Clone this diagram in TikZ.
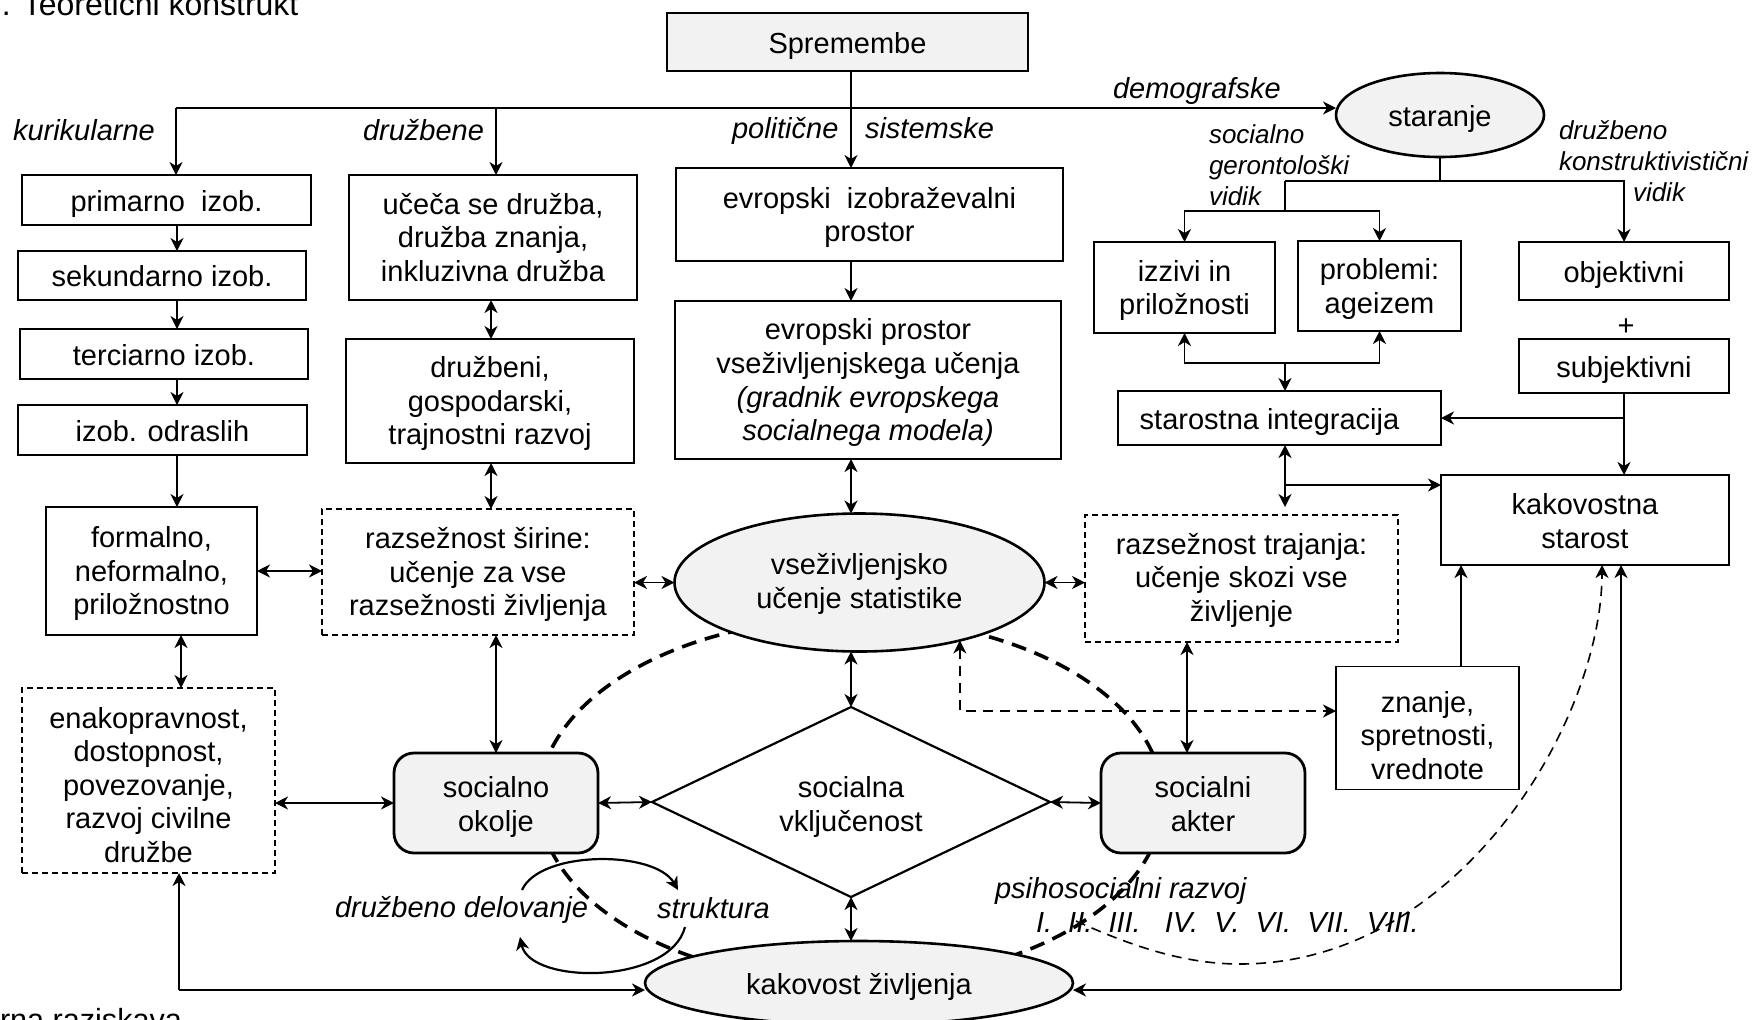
\documentclass[tikz,border=0pt]{standalone}
\usepackage{fontspec}
\setmainfont{Liberation Sans}
\usetikzlibrary{arrows.meta,shapes.geometric}
\definecolor{nodefill}{RGB}{242,242,242}
% invisible rule that sets the height of the first line of a multi-line label
\newcommand{\lnup}[1][15.4pt]{\rule{0pt}{#1}}

\begin{document}
\begin{tikzpicture}[x=0.5pt,y=-0.5pt,
  font=\fontsize{14.5pt}{16.8pt}\selectfont,
  every node/.style={inner sep=0pt, outer sep=0pt},
  >={Stealth[length=6.5pt,width=6.5pt,inset=2pt]},
  txt/.style={execute at begin node=\rule{0pt}{16.3pt}, execute at end node=\strut},
  box/.style={draw, line width=0.7pt, align=center, txt},
  dbox/.style={box, line width=0.6pt, dash pattern=on 3pt off 2pt},
  gbox/.style={draw, line width=1.4pt, fill=nodefill, rounded corners=10pt, align=center, txt},
  gell/.style={ellipse, draw, line width=1.3pt, fill=nodefill, align=center, txt},
  every path/.style={line width=0.9pt},
  lab/.style={font=\fontsize{14.5pt}{16.8pt}\selectfont\itshape, anchor=base west},
  slab/.style={font=\fontsize{13pt}{15.5pt}\selectfont\itshape, anchor=base west},
  bigdash/.style={line width=1.8pt, dash pattern=on 7.5pt off 4.5pt},
  thindash/.style={line width=0.8pt, dash pattern=on 5pt off 3.5pt},
  cyc/.style={line width=1.1pt}]

\fill[white] (0,0) rectangle (1758,1019);
\useasboundingbox (0,0) rectangle (1758,1019);

% large dashed ring behind the central nodes
\draw[bigdash] (851,800) ellipse [x radius=156pt, y radius=91pt];

% header and headings
\node[anchor=base west, font=\fontsize{16pt}{19pt}\selectfont] (ttl) at (2,15) {. Teoretični konstrukt};
\node[anchor=base west, font=\fontsize{15.3pt}{18pt}\selectfont] (sub) at (0,1030) {rna raziskava};
\node[box, fill=nodefill, line width=0.8pt, minimum width=180.5pt, minimum height=29pt] (spr) at (847.5,42) {Spremembe};

% left column: curricular changes
\node[box, minimum width=144.5pt, minimum height=25pt] (prim) at (166.5,200) {primarno~~izob.};
\node[box, minimum width=144pt, minimum height=24.5pt] (sek) at (162,275.5) {sekundarno izob.};
\node[box, minimum width=144pt, minimum height=25pt] (ter) at (164,354) {terciarno izob.};
\node[box, minimum width=144.5pt, minimum height=25pt] (odr) at (162.5,430) {izob. odraslih};
\node[box, minimum width=105.5pt, minimum height=64pt] (form) at (151.5,571) {\lnup formalno,\\neformalno,\\priložnostno};
\node[dbox, minimum width=126.5pt, minimum height=92.5pt] (enak) at (148.5,780.5) {\lnup[19.9pt]enakopravnost,\\dostopnost,\\povezovanje,\\razvoj civilne\\družbe};

% second column: social changes
\node[box, minimum width=144pt, minimum height=62.5pt] (uce) at (493,237.5) {\lnup učeča se družba,\\družba znanja,\\inkluzivna družba};
\node[box, minimum width=144pt, minimum height=62pt] (druz) at (490,401) {\lnup družbeni,\\gospodarski,\\trajnostni razvoj};
\node[dbox, minimum width=156pt, minimum height=63pt] (sir) at (478,572) {\lnup razsežnost širine:\\učenje za vse\\razsežnosti življenja};

% centre column
\node[box, minimum width=193.5pt, minimum height=46.5pt] (eip) at (869.5,214.5) {\lnup evropski~~izobraževalni\\prostor};
\node[box, minimum width=193pt, minimum height=79pt] (epvu) at (868,380) {\lnup evropski prostor\\vseživljenjskega učenja\\\textit{(gradnik evropskega}\\\textit{socialnega modela)}};
\node[gell, minimum width=185pt, minimum height=69pt] (vse) at (859.5,582.5) {\lnup[14.3pt]vseživljenjsko\\učenje statistike};
\node[diamond, draw, line width=1.1pt, fill=white, aspect=2.09, minimum width=199pt, minimum height=95pt, align=center, txt] (dia) at (851,802) {\lnup[17.6pt]socialna\\vključenost};
\node[gbox, minimum width=102pt, minimum height=50pt] (okolje) at (496,803) {\lnup[16.5pt]socialno\\okolje};
\node[gbox, minimum width=102pt, minimum height=50pt] (akter) at (1203,803) {\lnup[16.5pt]socialni\\akter};
\node[gell, minimum width=214pt, minimum height=42pt] (kz) at (859,983) {kakovost življenja};

% right part: ageing
\node[gell, minimum width=104pt, minimum height=42pt] (star) at (1440,115) {staranje};
\node[box, minimum width=90.5pt, minimum height=45.5pt] (izz) at (1184.5,287.5) {\lnup izzivi in\\priložnosti};
\node[box, minimum width=81.5pt, minimum height=45pt] (prob) at (1379.5,286) {\lnup problemi:\\ageizem};
\node[box, minimum width=105pt, minimum height=29pt] (obj) at (1624,271) {objektivni};
\node (plus) at (1626,327) {+};
\node[box, minimum width=105pt, minimum height=27pt] (subj) at (1624,366) {subjektivni};
\node[box, minimum width=161.5pt, minimum height=27pt] (stint) at (1279.5,418) {starostna integracija\hspace*{10pt}};
\node[box, minimum width=144pt, minimum height=45pt] (kak) at (1585,520) {\lnup[16.5pt]kakovostna\\starost};
\node[dbox, minimum width=156.5pt, minimum height=63.5pt] (traj) at (1241.5,578.5) {\lnup[14.3pt]razsežnost trajanja:\\učenje skozi vse\\življenje};
\node[box, minimum width=91.5pt, minimum height=57pt] (znanje) at (1427.5,728) {\lnup[22.9pt]znanje,\\spretnosti,\\vrednote};

% branch labels
\node[lab] (lkur) at (13,140) {kurikularne};
\node[lab] (ldru) at (363,140) {družbene};
\node[lab] (lpol) at (732,138) {politične};
\node[lab] (lsis) at (865,138) {sistemske};
\node[lab] (ldem) at (1113,98) {demografske};
\node[slab] (lsg1) at (1209,143) {socialno};
\node[slab] (lsg2) at (1209,174) {gerontološki};
\node[slab] (lsg3) at (1209,205) {vidik};
\node[slab] (ldk1) at (1559,139) {družbeno};
\node[slab] (ldk2) at (1559,170) {konstruktivistični};
\node[slab] (ldk3) at (1633,201) {vidik};
\node[lab] (lpsi) at (995,898) {psihosocialni razvoj};
\node[lab] (lnum) at (1036,932) {I.~~II.~~III.~~~IV.~~V.~~VI.~~VII.~~VIII.};
\node[lab] (ldel) at (335,917) {družbeno delovanje};
\node[lab] (lstr) at (657,918) {struktura};

% main distribution line
\coordinate (top) at (851,108);
\coordinate (hk) at (176,108);
\coordinate (hd) at (496,108);
\draw[->] (spr.south -| top) -- (eip.north -| top);
\draw[->] (hk) -- (prim.north -| hk);
\draw[->] (hd) -- (uce.north -| hd);
\draw[->] (hk) -- (star.west |- hk);

% left column links
\coordinate (lx) at (177,0);
\coordinate (lx2) at (181,0);
\draw[->] (prim.south -| lx) -- (sek.north -| lx);
\draw[->] (sek.south -| lx) -- (ter.north -| lx);
\draw[->] (ter.south -| lx) -- (odr.north -| lx);
\draw[->] (odr.south -| lx) -- (form.north -| lx);
\draw[<->] (form.south -| lx2) -- (enak.north -| lx2);
\draw[<->] (form.east) -- (form.east -| sir.west);

% second column links
\coordinate (dx) at (491,0);
\draw[<->] (uce.south -| dx) -- (druz.north -| dx);
\draw[<->] (druz.south -| dx) -- (sir.north -| dx);
\draw[<->] (sir.south -| okolje.north) -- (okolje.north);
\draw[<->] (vse.west -| sir.east) -- (vse.west);

% centre links
\draw[->] (eip.south -| top) -- (epvu.north -| top);
\draw[<->] (epvu.south -| top) -- (vse.north -| top);
\draw[<->] (vse.south -| top) -- (dia.north);
\draw[<->] (dia.south) -- (kz.north -| dia.south);
\draw[<->] (okolje.east) -- (dia.west);
\draw[<->] (dia.east) -- (akter.west);
\draw[<->] (okolje.west -| enak.east) -- (okolje.west);
\coordinate (ax) at (1187,0);
\draw[<->] (traj.south -| ax) -- (akter.north -| ax);
\draw[<->] (vse.east) -- (vse.east -| traj.west);

% ageing tree
\coordinate (sa) at (1285,181);
\coordinate (sb) at (1285,211);
\draw (star.south) -- (star.south |- sa);
\draw[->] (sa) -| (obj.north);
\draw (sa) -- (sb);
\draw[->] (sb) -| (izz.north);
\draw[->] (sb) -| (prob.north);
\coordinate (si) at (1285,363);
\draw[->] (si) -- (stint.north -| si);
\draw[->] (si) -| (izz.south);
\draw[->] (si) -| (prob.south);
\draw[->] (subj.south) -- (subj.south |- kak.north);
\draw[->] (subj.south |- stint.east) -- (stint.east);
\coordinate (sk) at (1285,485);
\draw[<->, shorten >=4pt] (stint.south -| sk) -- (traj.north -| sk);
\draw[->] (sk) -- (sk -| kak.west);
\coordinate (zx) at (1461,0);
\draw[->] (znanje.north -| zx) -- (kak.south -| zx);

% bottom return lines to quality of life
\coordinate (kr) at (1621,990);
\draw[->] (kr) -- (kak.south -| kr);
\draw[->] (kr) -- (kr -| kz.east);
\coordinate (kl) at (179,990);
\draw[->] (kl) -- (enak.south -| kl);
\draw[->] (kl) -- (kl -| kz.west);

% dashed links
\coordinate (dk) at (960,711);
\draw[thindash,<->] (vse.-30) -- (vse.-30 |- dk) -- (znanje.west |- dk);
\coordinate (ps) at (1076,921);
\coordinate (kd) at (1602,0);
\draw[thindash,->] (ps) .. controls (1140,950) and (1190,964) .. (1240,964)
  .. controls (1460,964) and (1602,720) .. (kak.south -| kd);

% action / structure cycle
\coordinate (c1) at (522,890);
\coordinate (c2) at (678,890);
\coordinate (c3) at (685,927);
\coordinate (c4) at (520,937);
\draw[cyc,->] (c1) .. controls (540,850) and (655,850) .. (c2);
\draw[cyc,->] (c3) .. controls (670,985) and (530,985) .. (c4);

\end{tikzpicture}
\end{document}
